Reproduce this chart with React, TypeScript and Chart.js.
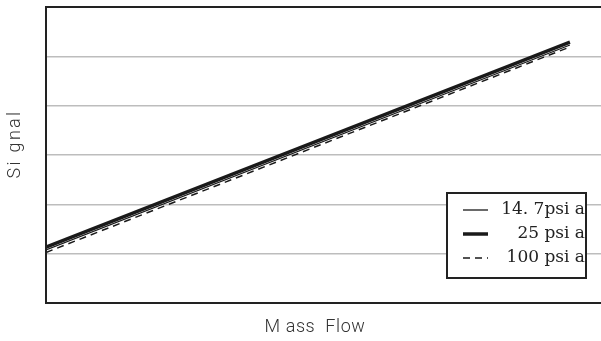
import React, { useEffect, useRef } from "react";
import { Chart, registerables } from "chart.js";

Chart.register(...registerables);

const seriesLabels = ["14. 7psi a", "25 psi a", "100 psi a"];
const massFlow = [0, 94.4];
const signal147 = [1.074, 5.23];
const signal25 = [1.135, 5.29];
const signal100 = [1.024, 5.19];
const yTickValues = [0, 1, 2, 3, 4, 5, 6];

const LINE = "#1a1a1a";

const framePlugin = {
  id: "frameAndTitles",
  afterDraw(chart: any) {
    const { ctx, chartArea } = chart;
    const { left, top, right, bottom } = chartArea;
    ctx.save();
    // frame
    ctx.strokeStyle = "#222";
    ctx.lineWidth = 2;
    ctx.beginPath();
    ctx.moveTo(right + 2, top);
    ctx.lineTo(left, top);
    ctx.lineTo(left, bottom);
    ctx.lineTo(right + 2, bottom);
    ctx.stroke();

    // axis titles
    ctx.fillStyle = "#333";
    ctx.font = "300 18px Roboto";
    ctx.textAlign = "center";
    ctx.textBaseline = "middle";
    (ctx as any).letterSpacing = "0.6px";
    ctx.fillText("M ass  Flow", 315, 327);
    ctx.save();
    ctx.translate(15, 144);
    ctx.rotate(-Math.PI / 2);
    (ctx as any).letterSpacing = "2.3px";
    ctx.fillText("Si gnal", 0, 0);
    ctx.restore();
    (ctx as any).letterSpacing = "0px";

    // legend
    const bx = 447, by = 193, bw = 139, bh = 85;
    ctx.fillStyle = "#fff";
    ctx.fillRect(bx, by, bw, bh);
    ctx.strokeStyle = "#222";
    ctx.lineWidth = 2;
    ctx.strokeRect(bx, by, bw, bh);
    const rows = [210, 234, 258];
    chart.data.datasets.forEach((ds: any, i: number) => {
      const y = rows[i];
      ctx.strokeStyle = ds.borderColor;
      ctx.lineWidth = ds.borderWidth;
      ctx.setLineDash(ds.borderDash || []);
      ctx.beginPath();
      ctx.moveTo(463, y);
      ctx.lineTo(488, y);
      ctx.stroke();
      ctx.setLineDash([]);
      ctx.fillStyle = "#222";
      ctx.font = "17px 'DejaVu Serif'";
      ctx.textAlign = "right";
      ctx.textBaseline = "middle";
      ctx.fillText(ds.label, 585, y);
    });
    ctx.restore();
  },
};

export default function App() {
  const ref = useRef<HTMLCanvasElement>(null);
  useEffect(() => {
    if (!ref.current) return;
    const mk = (ys: number[]) => massFlow.map((x, i) => ({ x, y: ys[i] }));
    const chart = new Chart(ref.current, {
      type: "line",
      data: {
        datasets: [
          {
            label: seriesLabels[0],
            data: mk(signal147),
            borderColor: LINE,
            borderWidth: 1.3,
            pointRadius: 0,
          },
          {
            label: seriesLabels[1],
            data: mk(signal25),
            borderColor: LINE,
            borderWidth: 3.5,
            pointRadius: 0,
          },
          {
            label: seriesLabels[2],
            data: mk(signal100),
            borderColor: LINE,
            borderWidth: 1.5,
            borderDash: [7, 5],
            pointRadius: 0,
          },
        ],
      },
      options: {
        animation: false,
        responsive: false,
        maintainAspectRatio: false,
        layout: { padding: { left: 46, top: 7, bottom: 38, right: 0 } },
        plugins: { legend: { display: false }, tooltip: { enabled: false } },
        scales: {
          x: { type: "linear", min: 0, max: 100, display: false },
          y: {
            type: "linear",
            min: yTickValues[0],
            max: yTickValues[yTickValues.length - 1],
            afterBuildTicks: (s: any) => {
              s.ticks = yTickValues.map((v) => ({ value: v }));
            },
            afterFit: (s: any) => {
              s.width = 0;
            },
            ticks: { display: false },
            border: { display: false },
            grid: {
              drawTicks: false,
              lineWidth: 1.5,
              color: (c: any) =>
                c.tick && (c.tick.value === 0 || c.tick.value === 6) ? "rgba(0,0,0,0)" : "#bdbdbd",
            },
          },
        },
      },
      plugins: [framePlugin],
    });
    return () => chart.destroy();
  }, []);
  return (
    <div style={{ position: "absolute", left: 0, top: 0, width: 601, height: 341, background: "#fff" }}>
      <canvas ref={ref} width={601} height={341} style={{ display: "block" }} />
    </div>
  );
}
